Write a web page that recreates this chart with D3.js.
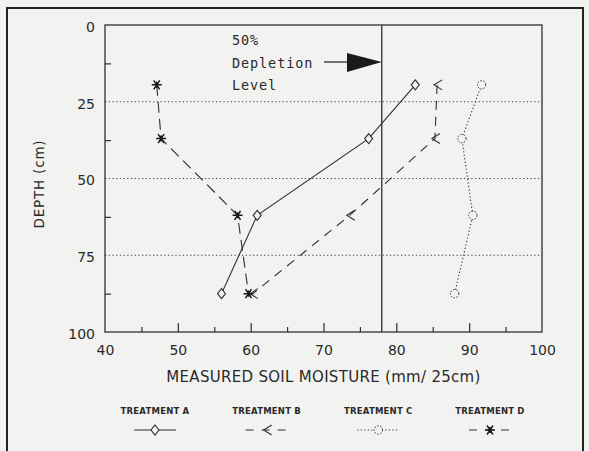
<!DOCTYPE html>
<html><head><meta charset="utf-8">
<script src="https://cdn.jsdelivr.net/npm/d3@7"></script>
<style>
html,body{margin:0;padding:0;background:#f2f3f1;}
svg{display:block;}
text{fill:#2a2a2a;}
</style></head>
<body>
<script>
// ---- data ----
const depths = [19.5, 37, 62, 87.5];
const treatmentA = [82.6, 76.2, 60.9, 56.0];
const treatmentB = [85.6, 85.3, 73.6, 60.3];
const treatmentC = [91.7, 89.0, 90.5, 88.0];
const treatmentD = [47.1, 47.7, 58.2, 59.7];
const seriesNames = ["TREATMENT A", "TREATMENT B", "TREATMENT C", "TREATMENT D"];
const xTicks = [40, 50, 60, 70, 80, 90, 100];
const xMinorTicks = [45, 55, 65, 75, 85, 95];
const yTicks = [0, 25, 50, 75, 100];
const yMinorTicks = [12.5, 37.5, 62.5, 87.5];
const gridDepths = [25, 50, 75];
const depletionLevel = 78;
const annotationLines = ["50%", "Depletion", "Level"];

const W = 589, H = 451;
const ink = "#2e2e2e";
const svg = d3.select("body").append("svg").attr("width", W).attr("height", H);

// outer frame
svg.append("path").attr("d", `M7,451 L7,8 L583,8 L583,451`)
  .attr("fill", "none").attr("stroke", "#222").attr("stroke-width", 2);

const x = d3.scaleLinear().domain([40, 100]).range([105, 542]);
const y = d3.scaleLinear().domain([0, 100]).range([25, 332]);

// grid lines
svg.selectAll(".grid").data(gridDepths).enter().append("line")
  .attr("x1", x(40)).attr("x2", x(100)).attr("y1", d => y(d)).attr("y2", d => y(d))
  .attr("stroke", "#444").attr("stroke-width", 1.2).attr("stroke-dasharray", "1.3,2.4");

// plot box
svg.append("rect").attr("x", x(40)).attr("y", y(0)).attr("width", x(100) - x(40)).attr("height", y(100) - y(0))
  .attr("fill", "none").attr("stroke", ink).attr("stroke-width", 1.3);

// depletion line
svg.append("line").attr("x1", x(depletionLevel)).attr("x2", x(depletionLevel))
  .attr("y1", y(0)).attr("y2", y(100)).attr("stroke", ink).attr("stroke-width", 1.3);

// axes via d3
const fontTick = "DejaVu Sans";
const xAxis = d3.axisBottom(x).tickValues(xTicks).tickSize(-9).tickPadding(13).tickFormat(d3.format("d"));
const gx = svg.append("g").attr("transform", `translate(0,${y(100)})`).call(xAxis);
gx.select(".domain").remove();
gx.selectAll(".tick line").attr("stroke", ink).attr("stroke-width", 1.2);
gx.selectAll(".tick text").attr("font-family", fontTick).attr("font-size", 14).attr("fill", ink);
gx.selectAll(".tick").filter(d => d === 40 || d === 100).select("line").remove();

const xMinor = d3.axisBottom(x).tickValues(xMinorTicks).tickSize(-5).tickFormat("");
const gxm = svg.append("g").attr("transform", `translate(0,${y(100)})`).call(xMinor);
gxm.select(".domain").remove();
gxm.selectAll(".tick line").attr("stroke", ink).attr("stroke-width", 1.2);

const yAxis = d3.axisLeft(y).tickValues(yTicks).tickSize(0).tickPadding(10).tickFormat(d3.format("d"));
const gy = svg.append("g").attr("transform", `translate(${x(40)},2)`).call(yAxis);
gy.select(".domain").remove();
gy.selectAll(".tick text").attr("font-family", fontTick).attr("font-size", 14).attr("fill", ink);

const yMinor = d3.axisLeft(y).tickValues(yMinorTicks).tickSize(-6).tickFormat("");
const gym = svg.append("g").attr("transform", `translate(${x(40)},0)`).call(yMinor);
gym.select(".domain").remove();
gym.selectAll(".tick line").attr("stroke", ink).attr("stroke-width", 1.2);

// axis titles
svg.append("text").attr("x", (x(40) + x(100)) / 2).attr("y", 382)
  .attr("text-anchor", "middle").attr("font-family", "DejaVu Sans").attr("font-size", 15)
  .attr("letter-spacing", 0.3).text("MEASURED SOIL MOISTURE (mm/ 25cm)");
svg.append("text").attr("transform", "translate(44,184) rotate(-90)")
  .attr("text-anchor", "middle").attr("font-family", "DejaVu Sans").attr("font-size", 13.5)
  .attr("letter-spacing", 0.8).text("DEPTH (cm)");

// annotation
const ann = svg.append("g").attr("font-family", "DejaVu Sans Mono").attr("font-size", 13.5).attr("letter-spacing", 0.9);
annotationLines.forEach((t, i) => {
  ann.append("text").attr("x", 232).attr("y", 45 + i * 22.5).text(t);
});
svg.append("line").attr("x1", 324).attr("x2", 350).attr("y1", 62).attr("y2", 62).attr("stroke", ink).attr("stroke-width", 1.3);
svg.append("path").attr("d", `M347,53 L${x(depletionLevel)},62 L347,72 Z`).attr("fill", "#1a1a1a");

// marker generators
const markers = {
  diamond: g => g.append("path").attr("d", "M0,-5 L4,0 L0,5 L-4,0 Z").attr("fill", "#f2f3f1").attr("stroke", ink).attr("stroke-width", 1.1),
  chevron: g => g.append("path").attr("d", "M5,-5 L-3,0 L5,5").attr("fill", "none").attr("stroke", ink).attr("stroke-width", 1.1),
  circle: g => g.append("circle").attr("r", 4.2).attr("fill", "#f2f3f1").attr("stroke", ink).attr("stroke-width", 1).attr("stroke-dasharray", "1.5,1.5"),
  star: g => g.append("path").attr("d", "M-5,0 L5,0 M-3,-4.5 L3,4.5 M3,-4.5 L-3,4.5 M0,-3 L0,3").attr("fill", "none").attr("stroke", "#1a1a1a").attr("stroke-width", 1.5)
};

const series = [
  {name: seriesNames[0], values: treatmentA, dash: null, marker: "diamond"},
  {name: seriesNames[1], values: treatmentB, dash: "9,7", marker: "chevron"},
  {name: seriesNames[2], values: treatmentC, dash: "1.2,2.3", marker: "circle"},
  {name: seriesNames[3], values: treatmentD, dash: "11,6", marker: "star"}
];

const line = d3.line().x(d => x(d[0])).y(d => y(d[1]));
series.forEach(s => {
  const pts = s.values.map((v, i) => [v, depths[i]]);
  svg.append("path").datum(pts).attr("d", line).attr("fill", "none")
    .attr("stroke", ink).attr("stroke-width", 1.1)
    .attr("stroke-dasharray", s.dash);
  pts.forEach(p => {
    const g = svg.append("g").attr("transform", `translate(${x(p[0])},${y(p[1])})`);
    markers[s.marker](g);
  });
});

// legend
const legendX = d3.scalePoint().domain(seriesNames).range([155, 490]);
series.forEach(s => {
  const cx = legendX(s.name);
  svg.append("text").attr("x", cx).attr("y", 414).attr("text-anchor", "middle")
    .attr("font-family", "DejaVu Sans").attr("font-size", 8.5).attr("font-weight", "bold")
    .attr("letter-spacing", 0.2).text(s.name);
  svg.append("line").attr("x1", cx - 21).attr("x2", cx + 21).attr("y1", 430).attr("y2", 430)
    .attr("stroke", ink).attr("stroke-width", 1.1).attr("stroke-dasharray", s.dash ? (s.marker === "circle" ? s.dash : "8,8") : null);
  const g = svg.append("g").attr("transform", `translate(${cx},430)`);
  markers[s.marker](g);
});
</script>
</body></html>
